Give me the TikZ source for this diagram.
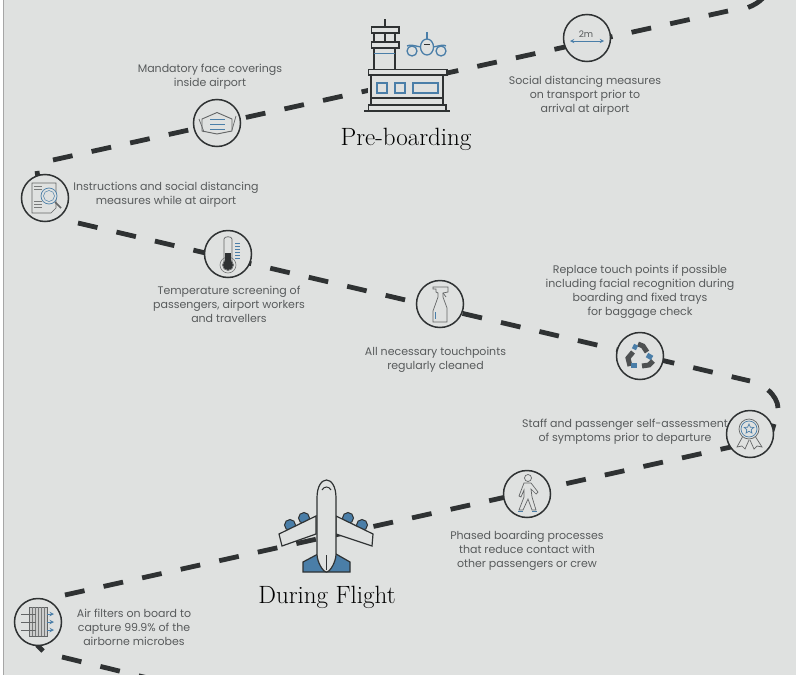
\documentclass[tikz,border=0pt]{standalone}
\usepackage{fontspec}
\setmainfont{Poppins}
\newfontfamily\headfont{Latin Modern Roman}
\usetikzlibrary{shapes.geometric}
\definecolor{paneGrey}{HTML}{DFE1E0}
\definecolor{inkDark}{HTML}{2F3233}
\definecolor{inkBlue}{HTML}{4A7EA8}
\definecolor{textGrey}{HTML}{585B5C}
\begin{document}
\begin{tikzpicture}[x=1pt,y=-1pt,
 stopmark/.style={circle, draw=inkDark, line width=1.5pt, fill=paneGrey, minimum size=47pt, inner sep=0},
 route/.style={inkDark, line width=4.8pt, dash pattern=on 20pt off 19.5pt},
 routeturn/.style={inkDark, line width=4.8pt},
 caption/.style={align=center, text=textGrey, font=\fontsize{11}{14}\selectfont, inner sep=0},
 heading/.style={text=black, font=\headfont\fontsize{25}{28}\selectfont, inner sep=0},
 ink/.style={draw=inkDark, line width=1pt},
 pale ink/.style={draw=inkDark!75, line width=.7pt},
 thin ink/.style={draw=inkDark!65, line width=.6pt},
 blue ink/.style={draw=inkBlue, line width=.9pt},
 tower ink/.style={draw=inkDark, line width=1.3pt}]
\useasboundingbox (0,0) rectangle (796,675);
\clip (0,0) rectangle (796,675);
\fill[white] (0,0) rectangle (796,675);
\fill[paneGrey] (3,0) rectangle (796,675);
\draw[black!35, line width=.8pt] (3,0)--(3,675);
\coordinate (legAstart) at (53,160);
\coordinate (legAend) at (728,11);
\coordinate (legBstart) at (78,223);
\coordinate (legBend) at (750,381);
\coordinate (legCstart) at (65,595);
\coordinate (legCend) at (740,445);
\coordinate (legDstart) at (62,657);
\coordinate (legDend) at (160,681);
\draw[route] (legAstart)--(legAend);
\draw[route] (legBstart)--(legBend);
\draw[route] (legCstart)--(legCend);
\draw[route] (legDstart)--(legDend);
\draw[routeturn] (748,7.5) .. controls (754,5) and (758,3) .. (763,-2);
\draw[routeturn] (768,390) .. controls (774,395) and (778,402) .. (778,408);
\draw[routeturn] (774,424)--(772,431);
\draw[routeturn] (37,171)--(38,178);
\draw[routeturn] (37,645)--(43,651);
\node[stopmark] (stopGap) at (587,38) {};
\node[stopmark] (stopMask) at (217,123) {};
\node[stopmark] (stopDoc) at (45,198) {};
\node[stopmark] (stopThermo) at (228,254) {};
\node[stopmark] (stopSpray) at (440,304) {};
\node[stopmark] (stopRecycle) at (640,356) {};
\node[stopmark] (stopAward) at (750,434) {};
\node[stopmark] (stopWalker) at (527,494) {};
\node[stopmark] (stopFilter) at (38,622) {};
\begin{scope}[shift={(stopGap)}]
\draw[blue ink, <->, >=stealth] (-17,3)--(17,3);
\node[text=textGrey, font=\fontsize{9}{10}\selectfont, inner sep=0] (gapLabel) at (-1,-4) {2m};
\end{scope}
\begin{scope}[shift={(stopMask)}]
\draw[pale ink, line width=.9pt] (-15,-4)--(0,-10.5)--(15,-4)--(15,8)--(0,11)--(-15,8)--cycle;
\draw[pale ink] (-18,-4)--(-13,9);
\draw[pale ink] (19,-7)--(15,7);
\foreach \y in {-4,1,6} {
 \draw[blue ink] (-7,\y)--(8,\y);
}
\end{scope}
\begin{scope}[shift={(stopDoc)}]
\draw[pale ink, fill=paneGrey] (-13,-15)--(11,-15)--(11,10)--(6,15)--(-13,15)--cycle;
\foreach \y in {-12,-9,3,6,9} {
 \draw[thin ink] (-11,\y)--(-3,\y);
}
\draw[pale ink, line width=1.6pt] (10,4)--(16,10);
\draw[blue ink, line width=.7pt, fill=paneGrey] (4,-2) circle (8);
\draw[blue ink, line width=.5pt] (4,-2) circle (5.5);
\end{scope}
\begin{scope}[shift={(stopThermo)}]
\draw[pale ink] (-4,7)--(-4,-15) .. controls (-4,-18) and (4,-18) .. (4,-15)--(4,7);
\draw[pale ink] (0,11) circle (5.5);
\draw[thin ink] (0,11) circle (8);
\fill[inkDark] (-3,-1) rectangle (3,10);
\fill[inkDark] (0,11) circle (5);
\foreach \y in {-11,-8,-5,-2,1,4} {
 \draw[blue ink, line width=.6pt] (7,\y)--(12,\y);
}
\end{scope}
\begin{scope}[shift={(stopSpray)}]
\draw[pale ink] (-7,-17)--(8,-17)--(8,-12)--(3,-11)--(3,-7)--(7,4)--(7,18)--(-7,18)--(-7,7)--(-2,-7)--(-2,-11)--(-4,-12)--(-4,-15)--(-7,-15)--cycle;
\draw[pale ink] (3,-11)--(6,-7);
\draw[blue ink, line width=.8pt] (-4.5,8)--(-4.5,15);
\end{scope}
\begin{scope}[shift={(stopRecycle)}]
\draw[inkDark!85, line width=5pt] (-2,-12)--(3,-10)--(7,-4);
\draw[inkDark!85, line width=5pt] (-7,-4)--(-12,2)--(-10,10);
\draw[inkDark!85, line width=5pt] (2,10)--(9,9)--(13,5);
\draw[inkBlue, line width=5pt] (-7,-10)--(-3,-8);
\draw[inkBlue, line width=5pt] (7,-1)--(12,2);
\draw[inkBlue, line width=5pt] (-9,9)--(-3,9);
\end{scope}
\begin{scope}[shift={(stopAward)}]
\draw[pale ink, fill=paneGrey] (-7,2)--(-13,13)--(-8,12)--(-5,15)--(-1,6);
\draw[pale ink, fill=paneGrey] (5,2)--(12,13)--(7,12)--(4,15)--(0,6);
\draw[pale ink, fill=paneGrey] (-1,-5) circle (10);
\draw[blue ink, line width=.7pt] (-1,-5) circle (8);
\node[star, star points=5, star point ratio=2.2, draw=inkBlue, line width=.7pt, minimum size=10pt, inner sep=0] (awardStar) at (-1,-5) {};
\end{scope}
\begin{scope}[shift={(stopWalker)}]
\draw[pale ink] (1,-16) circle (3.5);
\draw[pale ink] (-3,-11)--(4,-11)--(11,-2)--(9,0)--(4,-5)--(5,3)--(9,16)--(5,16)--(1,5)--(-4,16)--(-8,16)--(-3,3)--(-3,-4)--(-6,3)--(-8,2)--cycle;
\draw[blue ink] (-9,17)--(-4,17);
\draw[blue ink] (5,17)--(10,17);
\end{scope}
\begin{scope}[shift={(stopFilter)}]
\draw[pale ink, fill=inkDark!25] (-9,-15) rectangle (9,14);
\foreach \x in {-6,-3,...,6} {
 \draw[thin ink, line width=.5pt] (\x,-15)--(\x,14);
}
\foreach \y in {-8,0,8} {
 \draw[pale ink] (-17,\y)--(-2,\y);
 \draw[inkBlue, line width=1pt, ->, >=stealth] (9,\y)--(16,\y);
}
\end{scope}
\fill[paneGrey] (368,69) rectangle (447,111);
\fill[paneGrey] (371,27) rectangle (399,69);
\draw[tower ink] (385,19)--(385,27);
\draw[tower ink] (371.5,27) rectangle (399,33);
\draw[tower ink] (371.5,42) rectangle (399,48);
\foreach \x in {374,385,395} {
 \draw[tower ink] (\x,33)--(\x,42);
}
\foreach \x in {374,395} {
 \draw[tower ink] (\x,48)--(\x,69);
}
\draw[blue ink] (374,53)--(395,53);
\draw[tower ink, fill=paneGrey] (368.5,69.5) rectangle (447,75);
\draw[tower ink] (371,75)--(371,105);
\draw[tower ink] (443,75)--(443,105);
\draw[tower ink] (371,98)--(443,98);
\draw[tower ink] (368.5,105) rectangle (446,111);
\draw[tower ink] (364,111)--(450,111);
\foreach \x/\w in {377/10,395/10,413/25} {
 \draw[blue ink, line width=1.2pt] (\x,83) rectangle ++(\w,10);
}
\draw[blue ink, line width=1.3pt] (427,32)--(427,39);
\draw[blue ink, line width=1.3pt] (421,47) .. controls (415,46) and (410,44) .. (407,46);
\draw[blue ink, line width=1.3pt] (433,47) .. controls (439,46) and (444,44) .. (446,46);
\draw[blue ink, line width=1.3pt] (412,51) circle (5);
\draw[blue ink, line width=1.3pt] (441,51) circle (5);
\draw[blue ink, line width=1.3pt, fill=paneGrey] (427,47) ellipse (6.5 and 8);
\draw[inkDark, line width=1.2pt] (424,44.5)--(430,44.5);
\foreach \x/\y in {290/525,304/518,348/518,362/525} {
 \draw[ink, fill=inkBlue] (\x,\y) circle (5.5);
}
\draw[ink, line width=1.2pt, fill=inkBlue] (303,572)--(303,562)--(318,554)--(336,554)--(350,562)--(350,572)--cycle;
\draw[ink, line width=1.2pt, fill=paneGrey] (279,534)--(316,516)--(316,534)--(282,546)--cycle;
\draw[ink, line width=1.2pt, fill=paneGrey] (336,516)--(373,534)--(372,546)--(336,534)--cycle;
\draw[ink, line width=1.2pt, fill=paneGrey] (317,498) .. controls (317,474) and (336,474) .. (336,498)--(336,554) .. controls (336,562) and (330,572) .. (326.5,572) .. controls (323,572) and (317,562) .. (317,554)--cycle;
\draw[ink] (322,490) .. controls (324,486) and (329,486) .. (331,490);
\draw[ink] (326.5,555)--(326.5,570);
\node[heading] (titlePre) at (406,139) {Pre-boarding};
\node[heading] (titleFlight) at (327,597) {During Flight};
\node[caption] (noteGap) at (585,96) {Social distancing measures\\on transport prior to\\arrival at airport};
\node[caption] (noteMask) at (210,77) {Mandatory face coverings\\inside airport};
\node[caption] (noteDoc) at (166,195) {Instructions and social distancing\\measures while at airport};
\node[caption] (noteThermo) at (229,304) {Temperature screening of\\passengers, airport workers\\and travellers};
\node[caption] (noteSpray) at (435.5,360) {All necessary touchpoints\\regularly cleaned};
\node[caption] (noteRecycle) at (640,292) {Replace touch points if possible\\including facial recognition during\\boarding and fixed trays\\for baggage check};
\node[caption] (noteAward) at (625,432) {Staff and passenger self-assessment\\of symptoms prior to departure};
\node[caption] (noteWalker) at (527,551) {Phased boarding processes\\that reduce contact with\\other passengers or crew};
\node[caption] (noteFilter) at (134,627) {Air filters on board to\\capture 99.9\% of the\\airborne microbes};
\end{tikzpicture}
\end{document}
